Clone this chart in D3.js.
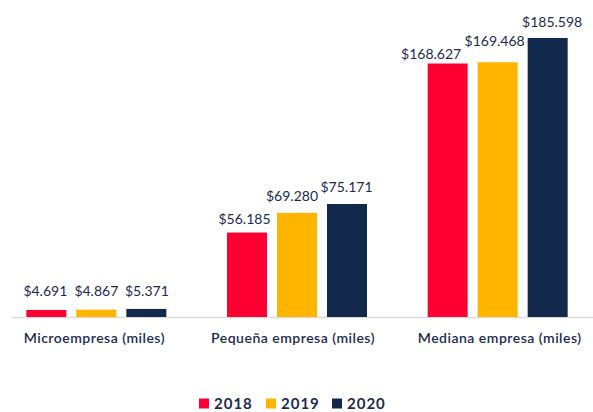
<!DOCTYPE html>
<html>
<head>
<meta charset="utf-8">
<script src="https://cdn.jsdelivr.net/npm/d3@7"></script>
<style>
  html, body { margin: 0; padding: 0; background: #ffffff; }
  svg { display: block; font-family: Lato, "Noto Sans", sans-serif; }
</style>
</head>
<body>
<svg id="chart" width="593" height="412"></svg>
<script>
// ---- data ----
const categories = ["Microempresa (miles)", "Pequeña empresa (miles)", "Mediana empresa (miles)"];
const years = ["2018", "2019", "2020"];
const values2018 = [4.691, 56.185, 168.627];
const values2019 = [4.867, 69.280, 169.468];
const values2020 = [5.371, 75.171, 185.598];
const valueLabels2018 = ["$4.691", "$56.185", "$168.627"];
const valueLabels2019 = ["$4.867", "$69.280", "$169.468"];
const valueLabels2020 = ["$5.371", "$75.171", "$185.598"];
const colors = ["#ff0033", "#ffb400", "#13294b"];

const seriesValues = [values2018, values2019, values2020];
const seriesLabels = [valueLabels2018, valueLabels2019, valueLabels2020];

// label nudges (layout only): [category][series] = [dx, gap above bar]
const labelLayout = [
  [[-1, 13.5], [0, 13.5], [0.5, 13]],
  [[-2.5, 9], [-5, 12], [-0.5, 12]],
  [[-16.5, 5], [-3, 16], [4.5, 11]]
];

const svg = d3.select("#chart");
const baseY = 317;

const x0 = d3.scaleBand().domain(categories).range([-4, 598]).paddingInner(0).paddingOuter(0);
const x1 = d3.scaleBand().domain(years).range([-70, 70]).paddingInner(0.2).paddingOuter(0);
const y = d3.scaleLinear().domain([0, 185.598]).range([baseY, 38]);
const groupCenter = c => x0(c) + x0.bandwidth() / 2;

// baseline
svg.append("line")
  .attr("x1", 11).attr("x2", 593)
  .attr("y1", baseY + 0.5).attr("y2", baseY + 0.5)
  .attr("stroke", "#dadada").attr("stroke-width", 1.5);

const rows = [];
categories.forEach((c, ci) => {
  years.forEach((yr, si) => {
    rows.push({ c, ci, yr, si, v: seriesValues[si][ci], label: seriesLabels[si][ci] });
  });
});

svg.append("g").selectAll("rect").data(rows).join("rect")
  .attr("x", d => groupCenter(d.c) + x1(d.yr))
  .attr("y", d => y(d.v))
  .attr("width", x1.bandwidth())
  .attr("height", d => baseY - y(d.v))
  .attr("fill", d => colors[d.si]);

svg.append("g").selectAll("text").data(rows).join("text")
  .attr("x", d => groupCenter(d.c) + x1(d.yr) + x1.bandwidth() / 2 + labelLayout[d.ci][d.si][0])
  .attr("y", d => y(d.v) - labelLayout[d.ci][d.si][1])
  .attr("text-anchor", "middle")
  .attr("font-size", "14px")
  .attr("fill", "#1c2b4d")
  .text(d => d.label);

// category labels
svg.append("g").selectAll("text").data(categories).join("text")
  .attr("x", (c, i) => groupCenter(c) + [-2, -4, 2][i])
  .attr("y", 343)
  .attr("text-anchor", "middle")
  .attr("font-size", "14px")
  .attr("font-weight", 600)
  .attr("letter-spacing", "0.5px")
  .attr("fill", "#1c2b4d")
  .text(d => d);

// legend
const legendX = [199, 266, 332];
const lg = svg.append("g").selectAll("g").data(years).join("g")
  .attr("transform", (d, i) => `translate(${legendX[i]},398)`);
lg.append("rect").attr("x", 0).attr("y", 0.5).attr("width", 10).attr("height", 10)
  .attr("fill", (d, i) => colors[i]);
lg.append("text").attr("x", 15).attr("y", 10.5)
  .attr("font-size", "15px").attr("font-weight", 700)
  .attr("letter-spacing", "1px")
  .attr("fill", "#1c2b4d")
  .text(d => d);
</script>
</body>
</html>
